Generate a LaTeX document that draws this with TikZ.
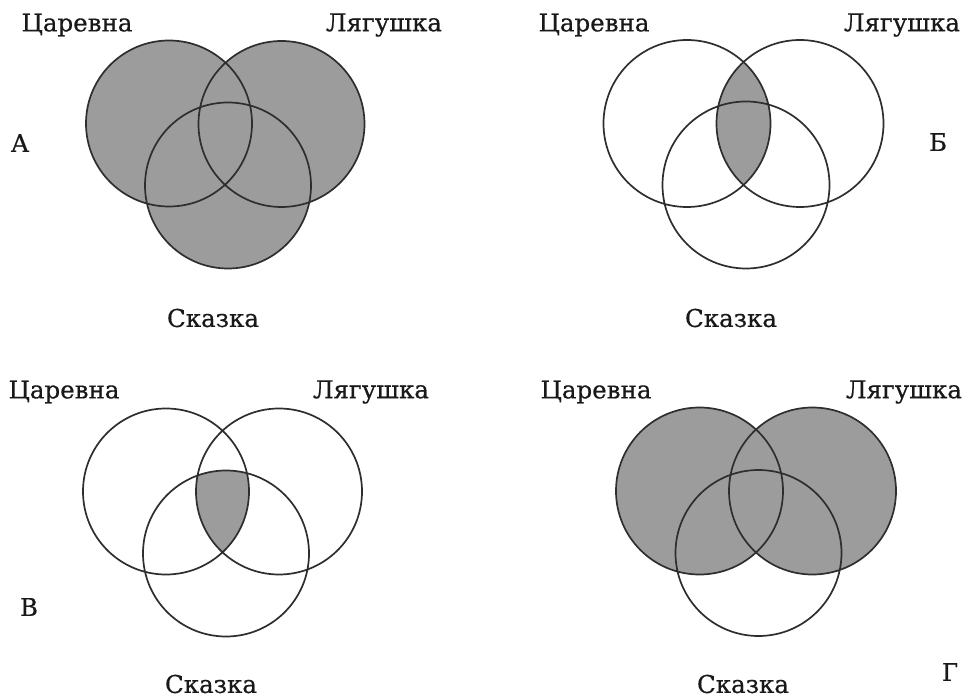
\documentclass[tikz,border=0pt]{standalone}
\usepackage{fontspec}
\setmainfont{DejaVu Serif}
\newfontfamily\lblfont[FakeBold=0.5]{DejaVu Serif}
\begin{document}
\begin{tikzpicture}[x=1pt,y=-1pt,
  ring/.style={draw=black!82,line width=1.7pt},
  shade/.style={fill=black!39},
  lbl/.style={inner sep=0pt,font=\lblfont\fontsize{24.5}{28}\selectfont,text=black!90}]
\useasboundingbox (0,0) rectangle (970,698);
\fill[white] (0,0) rectangle (970,698);
% ---------- Panel A ----------
\coordinate (a1) at (169,123.5);
\coordinate (a2) at (281.5,124);
\coordinate (a3) at (228,185.5);
\fill[shade] (a1) circle (83) (a2) circle (83) (a3) circle (83);
\draw[ring] (a1) circle (83) (a2) circle (83) (a3) circle (83);
\node[lbl] (aT) at (77,25) {Царевна};
\node[lbl] (aL) at (384,25) {Лягушка};
\node[lbl] (aS) at (213,318) {Сказка};
\node[lbl] (aA) at (20,143) {А};
% ---------- Panel B ----------
\coordinate (b1) at (687,123.5);
\coordinate (b2) at (800,123.5);
\coordinate (b3) at (746,185);
\begin{scope}
  \clip (b1) circle (83.5);
  \fill[shade] (b2) circle (83.5);
\end{scope}
\draw[ring] (b1) circle (83.5) (b2) circle (83.5) (b3) circle (83.5);
\node[lbl] (bT) at (594,25) {Царевна};
\node[lbl] (bL) at (902,25) {Лягушка};
\node[lbl] (bS) at (731,318) {Сказка};
\node[lbl] (bB) at (938,142) {Б};
% ---------- Panel C ----------
\coordinate (c1) at (166,491.5);
\coordinate (c2) at (279,491.5);
\coordinate (c3) at (226,553.5);
\begin{scope}
  \clip (c1) circle (83);
  \clip (c2) circle (83);
  \fill[shade] (c3) circle (83);
\end{scope}
\draw[ring] (c1) circle (83) (c2) circle (83) (c3) circle (83);
\node[lbl] (cT) at (64,392) {Царевна};
\node[lbl] (cL) at (371,392) {Лягушка};
\node[lbl] (cS) at (211,684) {Сказка};
\node[lbl] (cV) at (29,607) {В};
% ---------- Panel D ----------
\coordinate (d1) at (699.5,491);
\coordinate (d2) at (812.5,491);
\coordinate (d3) at (758.5,553);
\fill[shade] (d1) circle (83.5) (d2) circle (83.5);
\draw[ring] (d1) circle (83.5) (d2) circle (83.5) (d3) circle (83);
\node[lbl] (dT) at (596,392) {Царевна};
\node[lbl] (dL) at (904,392) {Лягушка};
\node[lbl] (dS) at (743,684) {Сказка};
\node[lbl] (dG) at (950,672) {Г};
\end{tikzpicture}
\end{document}
